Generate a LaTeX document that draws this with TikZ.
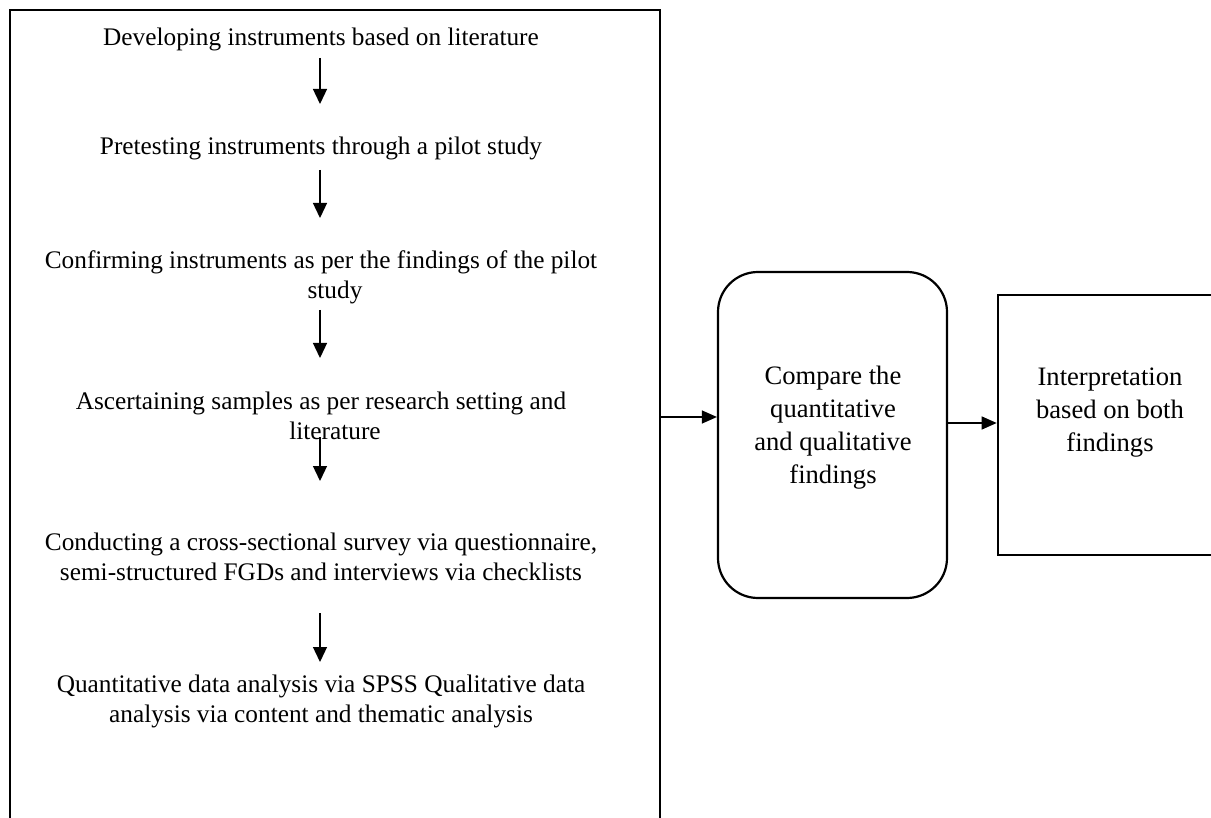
\documentclass[tikz,border=0pt]{standalone}
\usepackage{fontspec}
\setmainfont{Liberation Serif}
\usetikzlibrary{arrows.meta}
\begin{document}
\begin{tikzpicture}[x=1pt,y=-1pt,
  txt/.style={inner sep=0pt,align=center,font=\fontsize{25.3}{30}\selectfont},
  btxt/.style={inner sep=0pt,align=center,font=\fontsize{26.6}{33}\selectfont},
  varr/.style={line width=1.3pt,-{Triangle[length=15pt,width=14pt]}},
  harr/.style={line width=1.2pt,-{Triangle[length=15pt,width=13pt]}},
  bigbox/.style={draw,line width=2.6pt,inner sep=0pt},
  rbox/.style={draw,line width=2.2pt,rounded corners=40pt,inner sep=0pt}]
\useasboundingbox (0,0) rectangle (1211,818);
\clip (0,0) rectangle (1211,818);
\fill[white] (0,0) rectangle (1211,818);
% boxes
\node[bigbox,minimum width=650pt,minimum height=840pt] (L) at (335,430) {};
\node[rbox,minimum width=229pt,minimum height=326pt] (C) at (832.5,435) {};
\node[bigbox,minimum width=224pt,minimum height=260pt] (R) at (1110,425) {};
% left texts
\node[txt] (t1) at (321,39) {Developing instruments based on literature};
\node[txt] (t2) at (321,148) {Pretesting instruments through a pilot study};
\node[txt] (t3) at (321,277) {Confirming instruments as per the findings of the pilot\\\hspace*{28pt}study};
\node[txt] (t4) at (321,416) {Ascertaining samples as per research setting and\\\hspace*{28pt}literature};
\node[txt] (t5) at (321,557) {Conducting a cross-sectional survey via questionnaire,\\semi-structured FGDs and interviews via checklists};
\node[txt] (t6) at (321,701) {Quantitative data analysis via SPSS Qualitative data\\analysis via content and thematic analysis};
% box texts
\node[btxt] (ct) at (833,428) {Compare the\\quantitative\\and qualitative\\findings};
\node[btxt] (rt) at (1110,413) {Interpretation\\based on both\\findings};
% arrow coordinates
\coordinate (a1s) at (320,58);  \coordinate (a1e) at (320,104);
\coordinate (a2s) at (320,170); \coordinate (a2e) at (320,218);
\coordinate (a3s) at (320,310); \coordinate (a3e) at (320,358);
\coordinate (a4s) at (320,437); \coordinate (a4e) at (320,481);
\coordinate (a5s) at (320,613); \coordinate (a5e) at (320,662);
\draw[varr] (a1s) -- (a1e);
\draw[varr] (a2s) -- (a2e);
\draw[varr] (a3s) -- (a3e);
\draw[varr] (a4s) -- (a4e);
\draw[varr] (a5s) -- (a5e);
\coordinate (h1) at (0,417);
\coordinate (h2) at (0,423);
\draw[harr] (L.east |- h1) -- (C.west |- h1);
\draw[harr] (C.east |- h2) -- (R.west |- h2);
\end{tikzpicture}
\end{document}
